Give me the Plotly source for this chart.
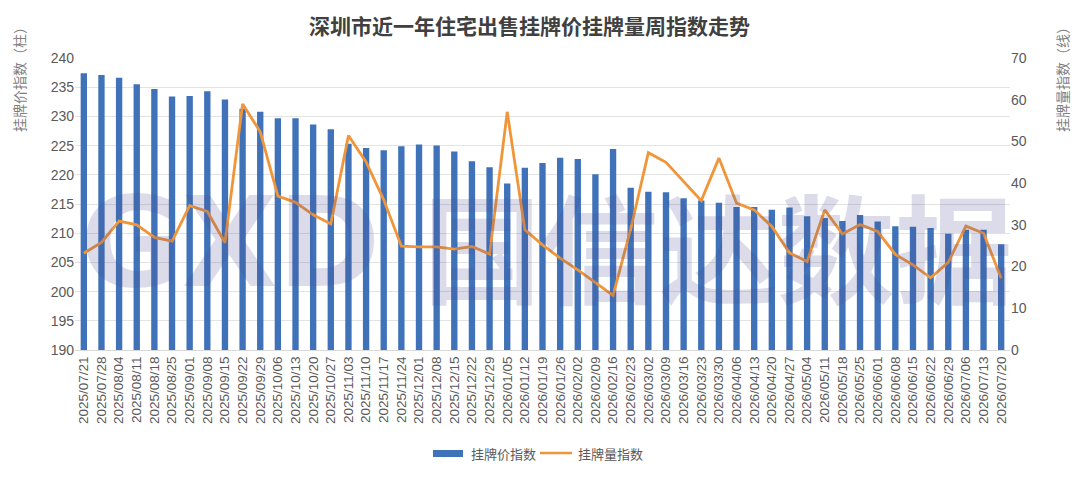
import plotly.graph_objects as go

# 周度日期（类别轴）
dates = [
    "2025/07/21", "2025/07/28", "2025/08/04", "2025/08/11", "2025/08/18", "2025/08/25",
    "2025/09/01", "2025/09/08", "2025/09/15", "2025/09/22", "2025/09/29", "2025/10/06",
    "2025/10/13", "2025/10/20", "2025/10/27", "2025/11/03", "2025/11/10", "2025/11/17",
    "2025/11/24", "2025/12/01", "2025/12/08", "2025/12/15", "2025/12/22", "2025/12/29",
    "2026/01/05", "2026/01/12", "2026/01/19", "2026/01/26", "2026/02/02", "2026/02/09",
    "2026/02/16", "2026/02/23", "2026/03/02", "2026/03/09", "2026/03/16", "2026/03/23",
    "2026/03/30", "2026/04/06", "2026/04/13", "2026/04/20", "2026/04/27", "2026/05/04",
    "2026/05/11", "2026/05/18", "2026/05/25", "2026/06/01", "2026/06/08", "2026/06/15",
    "2026/06/22", "2026/06/29", "2026/07/06", "2026/07/13", "2026/07/20",
]

# 挂牌价指数（柱，左轴）
price_index = [
    237.4, 237.1, 236.6, 235.5, 234.7, 233.4, 233.5, 234.3, 232.9, 231.3,
    230.8, 229.7, 229.7, 228.6, 227.8, 225.3, 224.6, 224.2, 224.9, 225.2,
    225.0, 224.0, 222.3, 221.3, 218.5, 221.2, 222.0, 222.9, 222.7, 220.1,
    224.4, 217.8, 217.1, 217.0, 216.0, 215.6, 215.2, 214.5, 214.5, 214.0,
    214.4, 212.9, 212.6, 212.1, 213.1, 212.0, 211.2, 211.1, 210.9, 209.9,
    210.6, 210.6, 208.1,
]

# 挂牌量指数（线，右轴）
volume_index = [
    23.2, 25.8, 30.9, 30.0, 27.0, 26.1, 34.6, 33.2, 25.7, 59.0,
    52.3, 36.9, 35.4, 32.4, 30.2, 51.4, 45.1, 36.0, 24.9, 24.7,
    24.7, 24.2, 24.8, 23.0, 57.1, 28.8, 25.2, 22.0, 19.2, 16.1,
    13.1, 29.0, 47.3, 45.0, 40.4, 35.8, 46.0, 35.2, 33.6, 29.6,
    23.3, 21.2, 33.6, 27.8, 30.1, 28.4, 22.9, 20.4, 17.3, 21.0,
    29.7, 28.0, 17.2,
]

FONT = "Liberation Sans, Noto Sans CJK SC, sans-serif"
CJK = "Noto Sans CJK SC"
GREY = "#595959"
BLUE = "#3f72b9"
ORANGE = "#f0953a"

# 页面 body 默认有 8px 边距，图整体缩小 8px 以对齐
OFF = 8
FW, FH = 1080 - OFF, 480 - OFF
# 绘图区（按参考图像素）
L, R, T, B = 75, 1010, 58, 350
W, H = R - L, B - T


def px(x):
    return (x - L) / W


def py(y):
    return (B - y) / H


fig = go.Figure()
fig.add_trace(go.Bar(
    x=dates, y=price_index, name="挂牌价指数",
    marker=dict(color=BLUE, line=dict(width=0)),
))
fig.add_trace(go.Scatter(
    x=dates, y=volume_index, name="挂牌量指数", yaxis="y2",
    mode="lines", line=dict(color=ORANGE, width=2.8),
))

fig.update_layout(
    width=FW, height=FH,
    margin=dict(l=L - OFF, r=1080 - R, t=T - OFF, b=480 - B),
    paper_bgcolor="white", plot_bgcolor="white",
    font=dict(family=FONT, color=GREY, size=13),
    bargap=0.64,
    showlegend=False,
    xaxis=dict(
        type="category", tickangle=-90, tickfont=dict(size=13.5, color=GREY),
        showgrid=False, showline=True, linecolor="#d9d9d9", ticks="", automargin=False,
    ),
    yaxis=dict(
        range=[190, 240], dtick=5, showgrid=True, gridcolor="#e3e3e3", gridwidth=1,
        zeroline=False, showline=False, ticks="", tickfont=dict(size=14, color=GREY),
        automargin=False,
    ),
    yaxis2=dict(
        range=[0, 70], dtick=10, overlaying="y", side="right", showgrid=False,
        zeroline=False, showline=False, ticks="", tickfont=dict(size=14, color=GREY),
        automargin=False,
    ),
    annotations=[
        dict(text="<b>深圳市近一年住宅出售挂牌价挂牌量周指数走势</b>", xref="paper", yref="paper",
             x=px(529), y=py(25), xanchor="center", yanchor="middle", showarrow=False,
             font=dict(size=21, color="#404040", family=CJK)),
        dict(text="挂牌价指数（柱）", xref="paper", yref="paper", textangle=-90,
             x=px(19), y=py(18), xanchor="center", yanchor="top",
             showarrow=False, font=dict(size=14, color="#7f7f7f", family=CJK)),
        dict(text="挂牌量指数（线）", xref="paper", yref="paper", textangle=-90,
             x=px(1062), y=py(18), xanchor="center", yanchor="top",
             showarrow=False, font=dict(size=14, color="#7f7f7f", family=CJK)),
        # 图例文字
        dict(text="挂牌价指数", xref="paper", yref="paper", x=px(469), y=py(453),
             xanchor="left", yanchor="middle", showarrow=False,
             font=dict(size=13, color=GREY, family=CJK)),
        dict(text="挂牌量指数", xref="paper", yref="paper", x=px(576), y=py(453),
             xanchor="left", yanchor="middle", showarrow=False,
             font=dict(size=13, color=GREY, family=CJK)),
        # 水印
        dict(text="<b>GXD</b>", xref="paper", yref="paper",
             x=px(230), y=py(243), xanchor="center", yanchor="middle", showarrow=False,
             font=dict(size=124, color="rgba(75,75,145,0.2)", family="DejaVu Sans")),
        dict(text="<b>国信达数据</b>", xref="paper", yref="paper",
             x=px(718), y=py(243), xanchor="center", yanchor="middle", showarrow=False,
             font=dict(size=118, color="rgba(75,75,145,0.2)", family=CJK)),
    ],
    shapes=[
        # 图例图标
        dict(type="rect", xref="paper", yref="paper", x0=px(433), x1=px(463),
             y0=py(457), y1=py(450), line=dict(width=0), fillcolor=BLUE),
        dict(type="line", xref="paper", yref="paper", x0=px(540), x1=px(572),
             y0=py(453), y1=py(453), line=dict(color=ORANGE, width=2.5)),
    ],
)

fig.write_html("out.html")
